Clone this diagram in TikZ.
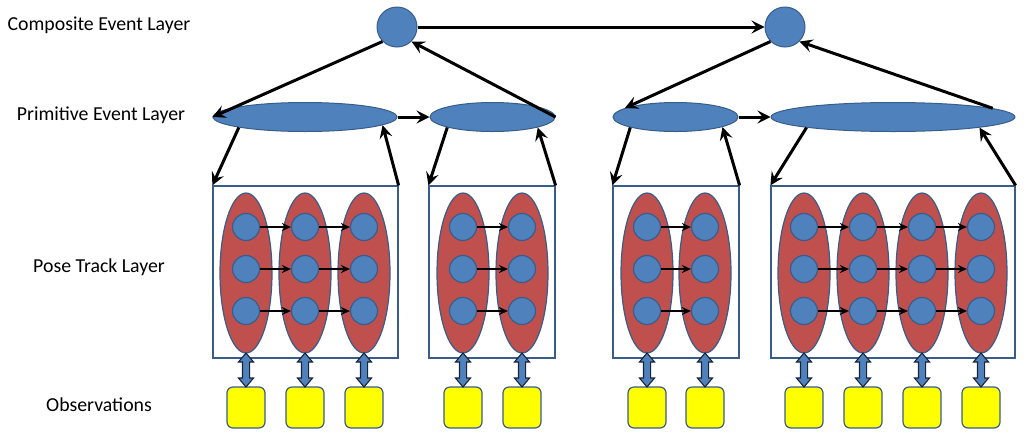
\documentclass[tikz,border=0pt]{standalone}
\usepackage{fontspec}
\setmainfont{Carlito}
\usetikzlibrary{arrows.meta,shapes.geometric,shapes.arrows}
\definecolor{nodeblue}{HTML}{4F81BD}
\definecolor{edgeblue}{HTML}{385D8A}
\definecolor{poseRed}{HTML}{C0504D}
\definecolor{obsYellow}{HTML}{FFFF00}
\definecolor{darkline}{HTML}{1A2436}
\tikzset{
  x=1pt, y=-1pt,
  lbl/.style={font=\fontsize{19.8}{22}\selectfont, text=black, inner sep=0pt},
  comp/.style={circle, fill=nodeblue, draw=edgeblue, line width=1pt, minimum size=40pt, inner sep=0pt},
  prim/.style={ellipse, fill=nodeblue, draw=edgeblue, line width=1pt, minimum height=29pt, inner sep=0pt},
  posebox/.style={rectangle, draw=edgeblue, line width=1.2pt, minimum height=172pt, inner sep=0pt},
  track/.style={ellipse, fill=poseRed, draw=edgeblue, line width=1.2pt, minimum width=52pt, minimum height=160pt, inner sep=0pt},
  pose/.style={circle, fill=nodeblue, draw=edgeblue, line width=1.2pt, minimum size=27pt, inner sep=0pt},
  obs/.style={rectangle, rounded corners=6pt, fill=obsYellow, draw=edgeblue, line width=1.2pt, minimum width=38pt, minimum height=41pt, inner sep=0pt},
  link/.style={double arrow, fill=nodeblue, draw=darkline, line width=1.1pt, inner sep=3pt, double arrow head extend=4pt, double arrow tip angle=80, minimum height=34pt, rotate=90},
  bigarrow/.style={line width=3pt, -{Stealth[length=13pt,width=13pt,inset=5pt]}},
  smallarrow/.style={line width=1.8pt, -{Stealth[length=9pt,width=8pt,inset=3pt]}},
}
\begin{document}
\begin{tikzpicture}
\useasboundingbox (0,0) rectangle (1024,437);
% labels
\node[lbl] (lcomp) at (99,25) {Composite Event Layer};
\node[lbl] (lprim) at (101,115) {Primitive Event Layer};
\node[lbl] (lpose) at (99,267) {Pose Track Layer};
\node[lbl] (lobs) at (99,405) {Observations};
% composite
\node[comp] (comp1) at (397,27) {};
\node[comp] (comp2) at (785,27) {};
% primitive
\node[prim, minimum width=184pt] (prim1) at (305,117) {};
\node[prim, minimum width=125pt] (prim2) at (492.5,117) {};
\node[prim, minimum width=125pt] (prim3) at (675.5,117) {};
\node[prim, minimum width=244pt] (prim4) at (893,117) {};
% boxes
\node[posebox, minimum width=185pt] (box1) at (305.5,272) {};
\node[posebox, minimum width=126pt] (box2) at (492,272) {};
\node[posebox, minimum width=126pt] (box3) at (676,272) {};
\node[posebox, minimum width=244pt] (box4) at (893,272) {};
% tracks
\foreach \b/\cols in {1/{246,305,364},2/{463,522},3/{647,705},4/{804,863,922,981}} {
  \foreach \x [count=\i, evaluate=\i as \p using int(\i-1)] in \cols {
    \node[track] (r\b-\i) at (\x,273) {};
    \foreach \k/\yy in {1/227,2/269,3/311} {
      \node[pose] (c\b-\i-\k) at (\x,\yy) {};
    }
    \ifnum\i>1
      \foreach \k in {1,2,3} {
        \draw[smallarrow] (c\b-\p-\k.east) -- (c\b-\i-\k.west);
      }
    \fi
    \node[obs] (o\b-\i) at (\x,407.5) {};
    \node[link] (d\b-\i) at (\x,370) {};
  }
}
% top arrows
\draw[bigarrow] (comp1.east) -- (comp2.west);
\draw[bigarrow] (comp1.225) -- (prim1.west);
\draw[bigarrow] (prim2.east) -- (comp1.-45);
\draw[bigarrow] (comp2.225) -- (prim3.170);
\draw[bigarrow] (prim4.5) -- (comp2.-45);
\draw[bigarrow] (prim1.east) -- (prim2.west);
\draw[bigarrow] (prim3.east) -- (prim4.west);
% primitive to boxes
\draw[bigarrow] (prim1.189) -- (box1.north west);
\draw[bigarrow] (box1.north east) -- (prim1.-6);
\draw[bigarrow] (prim2.193) -- (box2.north west);
\draw[bigarrow] (box2.north east) -- (prim2.-13);
\draw[bigarrow] (prim3.193) -- (box3.north west);
\draw[bigarrow] (box3.north east) -- (prim3.-12);
\draw[bigarrow] (prim4.187) -- (box4.north west);
\draw[bigarrow] (box4.north east) -- (prim4.-7);
\end{tikzpicture}
\end{document}
